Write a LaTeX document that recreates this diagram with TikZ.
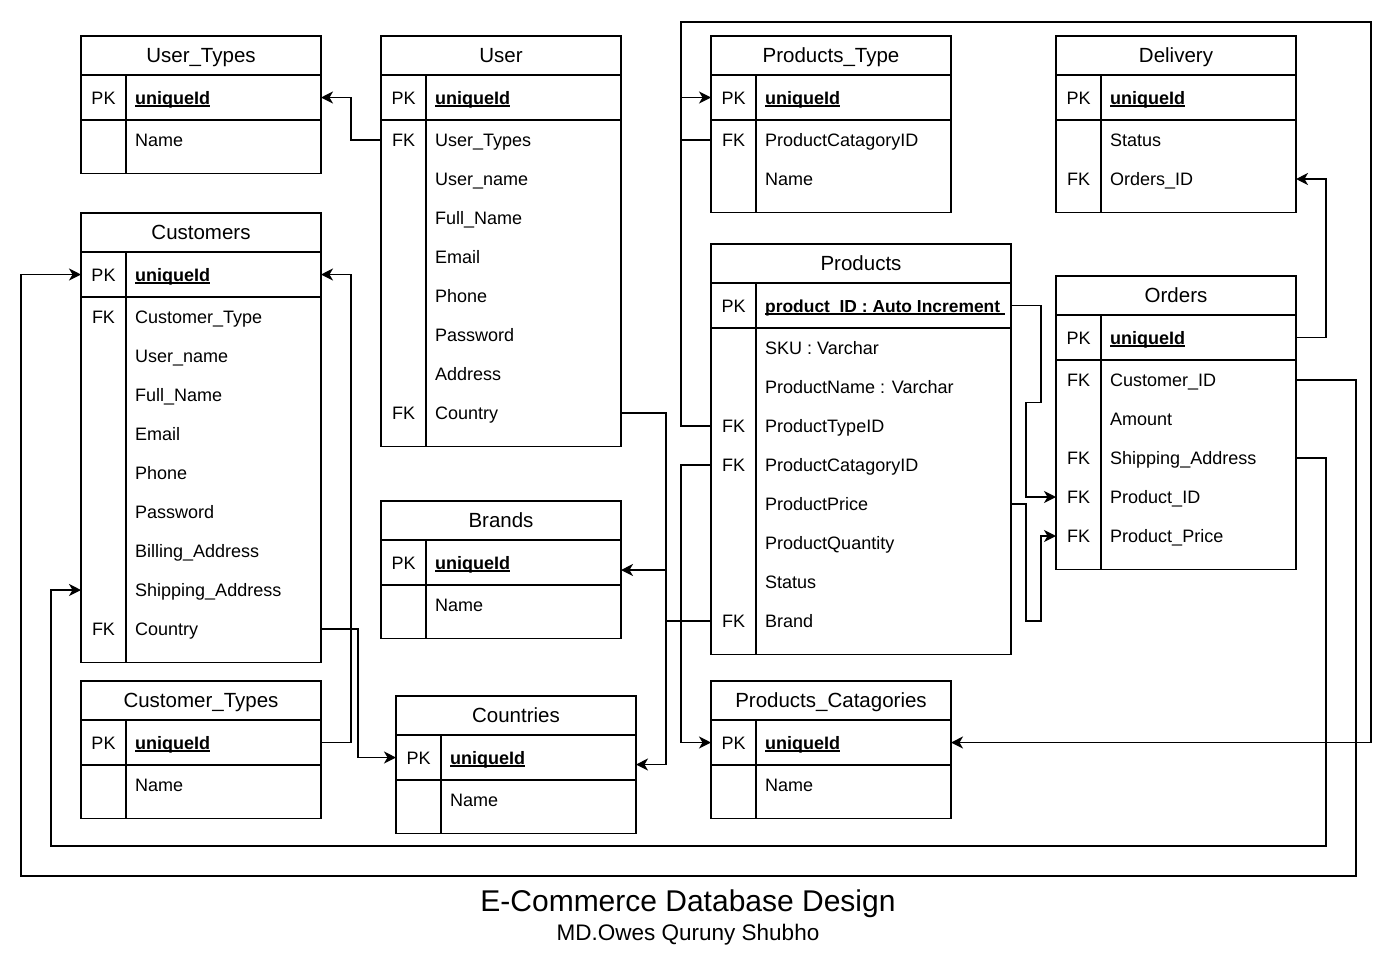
\documentclass[tikz,border=0pt]{standalone}
\usepackage{fontspec}
\setmainfont{Liberation Sans}
\usetikzlibrary{arrows.meta,calc}
\newcommand\ulbox[1]{\setbox0\hbox{#1}\rlap{\rule[-2.6pt]{\wd0}{1.2pt}}\box0}
\tikzset{
  tbl/.style={draw=black, line width=1.5pt},
  hdr/.style={tbl, rectangle, minimum height=39pt, inner sep=0pt, outer sep=0pt},
  pkbox/.style={tbl, rectangle, minimum height=45pt, inner sep=0pt, outer sep=0pt},
  rowbox/.style={rectangle, minimum height=39pt, inner sep=0pt, outer sep=0pt},
  keytxt/.style={font=\fontsize{18}{21}\selectfont, inner sep=0pt, anchor=base},
  fldtxt/.style={font=\fontsize{18}{21}\selectfont, inner sep=0pt, anchor=base west},
  hdrtxt/.style={font=\fontsize{20.5}{24}\selectfont, inner sep=0pt, anchor=base},
  conn/.style={line width=1.5pt, -{Stealth[length=12pt,width=12pt,inset=3.5pt]}},
}
% #1 name, #2 x, #3 ytop, #4 width, #5 title, #6 pk text, #7 rows
\newcommand\ertable[7]{%
  \node[hdr, minimum width=#4pt, anchor=north west] (#1) at (#2,#3) {};
  \node[hdrtxt] (#1-ttl) at ({#2+#4/2},{#3+26.8}) {#5};
  \node[pkbox, minimum width=#4pt, anchor=north west] (#1-pk) at (#1.south west) {};
  \node[keytxt] (#1-pkk) at ({#2+22.5},{#3+68}) {PK};
  \node[fldtxt] (#1-pkt) at ({#2+54},{#3+68}) {\ulbox{\textbf{#6}}};
  \foreach \kk/\ff [count=\i] in {#7} {
    \node[rowbox, minimum width=#4pt, anchor=west] (#1-r\i) at ({#2},{#3+104+39*(\i-1)}) {};
    \node[keytxt] (#1-k\i) at ({#2+22.5},{#3+110.5+39*(\i-1)}) {\kk};
    \node[fldtxt] (#1-t\i) at ({#2+54},{#3+110.5+39*(\i-1)}) {\ff};
    \xdef\nrows{\i}
  }
  \draw[tbl] ({#2},{#3+84}) rectangle ({#2+#4},{#3+98.5+39*\nrows});
  \draw[tbl] ({#2+45},{#3+39}) -- ({#2+45},{#3+98.5+39*\nrows});
}
\begin{document}
\begin{tikzpicture}[x=1pt,y=-1pt]
\useasboundingbox (0,0) rectangle (1396,956);
\fill[white] (0,0) rectangle (1396,956);

\ertable{ut}{81}{36}{240}{User\_Types}{uniqueId}{{}/Name}
\ertable{cus}{81}{213}{240}{Customers}{uniqueId}{FK/Customer\_Type, {}/User\_name, {}/Full\_Name, {}/Email, {}/Phone, {}/Password, {}/Billing\_Address, {}/Shipping\_Address, FK/Country}
\ertable{ct}{81}{681}{240}{Customer\_Types}{uniqueId}{{}/Name}
\ertable{usr}{381}{36}{240}{User}{uniqueId}{FK/User\_Types, {}/User\_name, {}/Full\_Name, {}/Email, {}/Phone, {}/Password, {}/Address, FK/Country}
\ertable{br}{381}{501}{240}{Brands}{uniqueId}{{}/Name}
\ertable{cty}{396}{696}{240}{Countries}{uniqueId}{{}/Name}
\ertable{pt}{711}{36}{240}{Products\_Type}{uniqueId}{FK/ProductCatagoryID, {}/Name}
\ertable{dl}{1056}{36}{240}{Delivery}{uniqueId}{{}/Status, FK/Orders\_ID}
\ertable{prd}{711}{244}{300}{Products}{\fontsize{17.4}{21}\selectfont product\_ID : Auto Increment\ }{{}/SKU : Varchar, {}/ProductName : Varchar, FK/ProductTypeID, FK/ProductCatagoryID, {}/ProductPrice, {}/ProductQuantity, {}/Status, FK/Brand}
\ertable{ord}{1056}{276}{240}{Orders}{uniqueId}{FK/Customer\_ID, {}/Amount, FK/Shipping\_Address, FK/Product\_ID, FK/Product\_Price}
\ertable{pc}{711}{681}{240}{Products\_Catagories}{uniqueId}{{}/Name}

\coordinate (topr) at (1371,22);
\coordinate (blo) at (21,876);
\coordinate (bli) at (51,846);

% connectors
\draw[conn] (usr-r1.west) -- ++(-30,0) |- (ut-pk.east);
\draw[conn] (ct-pk.east) -- ++(30,0) |- (cus-pk.east);
\draw[conn] (cus-r9.east) -- ++(37,0) |- (cty-pk.west);
\draw[conn] (usr-r8.east) -- ++(45,0) |- ($(cty-pk.east)+(0,7)$);
\draw[conn] (prd-r8.west) -- ++(-45,0) |- ($(br-pk.east)+(0,7.5)$);
\draw[conn] (prd-r3.west) -- ++(-30,0) |- (pt-pk.west);
\draw[conn] (pt-r1.west) -- ++(-30,0) |- (topr) |- (pc-pk.east);
\draw[conn] (prd-r4.west) -- ++(-30,0) |- (pc-pk.west);
\draw[conn] (prd-pk.east) -- ++(30,0) -- ++(0,97) -- ++(-15,0) |- (ord-r4.west);
\draw[conn] (prd-r5.east) -- ++(15,0) -- ++(0,117) -- ++(15,0) |- (ord-r5.west);
\draw[conn] (ord-pk.east) -- ++(30,0) |- (dl-r2.east);
\draw[conn] (ord-r1.east) -- ++(60,0) |- (blo) |- (cus-pk.west);
\draw[conn] (ord-r3.east) -- ++(30,0) |- (bli) |- (cus-r8.west);

\node[font=\fontsize{30}{36}\selectfont, anchor=base, inner sep=0pt] (title) at (688,911) {E-Commerce Database Design};
\node[font=\fontsize{22.5}{27}\selectfont, anchor=base, inner sep=0pt] (subtitle) at (688,940) {MD.Owes Quruny Shubho};
\end{tikzpicture}
\end{document}
